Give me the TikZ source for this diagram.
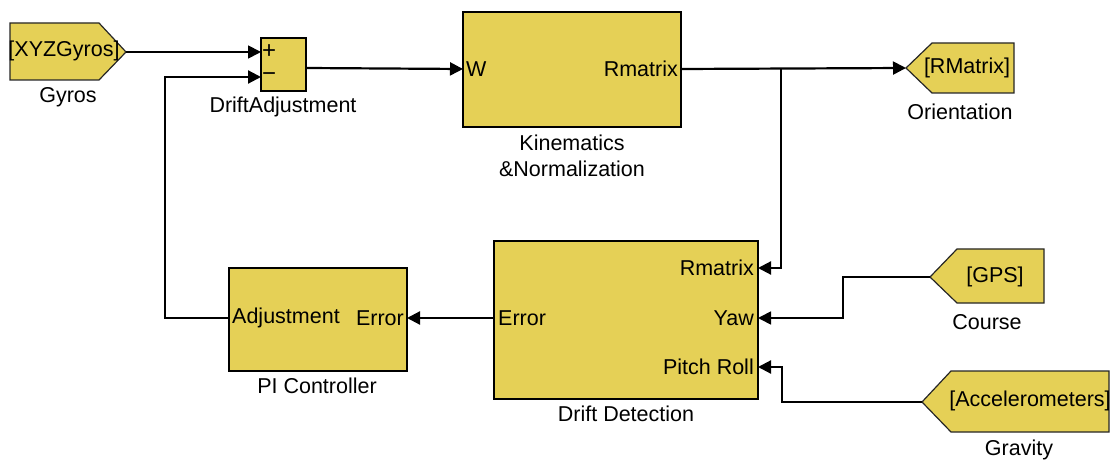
\documentclass[tikz,border=0pt]{standalone}
\usepackage{fontspec}
\setmainfont{Liberation Sans}
\usetikzlibrary{arrows.meta}
\definecolor{blockfill}{RGB}{229,208,86}
\begin{document}
\begin{tikzpicture}[x=1pt,y=-1pt,
  font=\fontsize{21.5}{26}\selectfont,
  block/.style={draw=black, fill=blockfill, line width=2.6pt, inner sep=0pt},
  tag/.style={draw=black!85, fill=blockfill, line width=1.2pt},
  txt/.style={inner sep=0pt},
  wire/.style={line width=2.2pt},
  sig/.style={wire, -{Triangle[length=13pt,width=13pt]}},
]
\useasboundingbox (0,0) rectangle (1110,462);

% ---- blocks ----
\node[block, minimum width=45, minimum height=53] (sum) at (283.5,64.5) {};
\node[block, line width=2pt, minimum width=218, minimum height=115] (kin) at (572,69.5) {};
\node[block, minimum width=264, minimum height=158] (drift) at (626,320) {};
\node[block, minimum width=178, minimum height=103] (pi) at (318,319.5) {};

% ---- goto / from tags ----
\draw[tag] (10,23) -- (99,23) -- (126,52) -- (99,80) -- (10,80) -- cycle;
\node[txt] (gyrostag) at (64,51) {[XYZGyros]};
\coordinate (gyrostip) at (126,52);

\draw[tag] (906,68) -- (932,43) -- (1014,43) -- (1014,93) -- (932,93) -- cycle;
\node[txt] (orienttag) at (967,68) {[RMatrix]};
\coordinate (orienttip) at (906,68);

\draw[tag] (930,277) -- (957,249) -- (1044,249) -- (1044,303) -- (957,303) -- cycle;
\node[txt] (gpstag) at (995,277) {[GPS]};
\coordinate (gpstip) at (930,277);

\draw[tag] (922,402) -- (951,371) -- (1109,371) -- (1109,432) -- (951,432) -- cycle;
\node[txt] (acctag) at (1030,401) {[Accelerometers]};
\coordinate (acctip) at (922,402);

% ---- block captions ----
\node[txt] (lgyros) at (68,97) {Gyros};
\node[txt] (lsum) at (283,107) {DriftAdjustment};
\node[txt, align=center] (lkin) at (572,156) {Kinematics\\\&Normalization};
\node[txt] (lorient) at (960,112) {Orientation};
\node[txt] (lcourse) at (987,322) {Course};
\node[txt] (lgrav) at (1019,450) {Gravity};
\node[txt] (lpi) at (317,386) {PI Controller};
\node[txt] (ldrift) at (626,414) {Drift Detection};

% ---- port labels ----
\node[txt, anchor=west, font=\fontsize{24}{26}\selectfont] (pplus) at (262,52) {+};
\node[txt, anchor=west, font=\fontsize{24}{26}\selectfont] (pminus) at (262,77) {\textminus};
\node[txt, anchor=west] (pw) at (466,69) {W};
\node[txt, anchor=east] (pkout) at (678,69) {Rmatrix};
\node[txt, anchor=east] (pdr) at (754,268) {Rmatrix};
\node[txt, anchor=east] (pdy) at (754,318) {Yaw};
\node[txt, anchor=east] (pdp) at (754,367) {Pitch Roll};
\node[txt, anchor=west] (pde) at (498,318) {Error};
\node[txt, anchor=west] (ppa) at (232,318) {Adjustment};
\node[txt, anchor=east] (ppe) at (404,318) {Error};

% ---- port coordinates ----
\coordinate (sumin1) at (261,52);
\coordinate (sumin2) at (261,77);
\coordinate (sumout) at (306,68);
\coordinate (kinin) at (463,69);
\coordinate (kinout) at (681,69);
\coordinate (drR) at (758,268);
\coordinate (drY) at (758,318);
\coordinate (drP) at (758,367);
\coordinate (drE) at (494,318);
\coordinate (piE) at (407,318);
\coordinate (piA) at (229,318);
\coordinate (branch) at (781,69);

% ---- signal lines ----
\draw[sig, line width=1.8pt] (gyrostip) -- (sumin1);
\draw[sig] (piA) -- (165,318) -- (165,77) -- (sumin2);
\draw[sig] (sumout) -- (kinin);
\draw[sig] (kinout) -- (orienttip);
\draw[sig] (branch) -- (781,268) -- (drR);
\draw[sig, line width=1.7pt] (gpstip) -- (843,277) -- (843,318) -- (drY);
\draw[sig] (acctip) -- (782,402) -- (782,367) -- (drP);
\draw[sig] (drE) -- (piE);
\end{tikzpicture}
\end{document}
